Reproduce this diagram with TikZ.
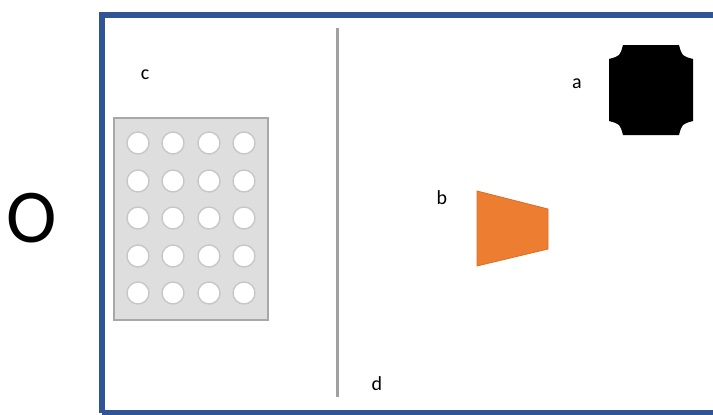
\documentclass[tikz,border=0pt]{standalone}
\usepackage{fontspec}
\setmainfont{Carlito}
\definecolor{frameblue}{HTML}{2F5597}
\definecolor{shapeorange}{HTML}{ED7D31}
\definecolor{platefill}{HTML}{DEDEDE}
\definecolor{plateedge}{HTML}{A8A8A8}
\definecolor{divgray}{HTML}{A0A0A0}
\tikzset{
  lbl/.style={inner sep=0pt, font=\fontsize{20}{24}\selectfont},
  well/.style={circle, fill=white, draw=black!22, line width=1.4pt, minimum size=22pt, inner sep=0pt},
}
\begin{document}
\begin{tikzpicture}[x=1pt,y=-1pt]
\useasboundingbox (0,0) rectangle (713,415);
\clip (0,0) rectangle (713,415);
\fill[white] (0,0) rectangle (713,415);
% frame
\draw[frameblue, line width=6pt] (101.5,413) -- (101.5,14.5) -- (730,14.5);
\draw[frameblue, line width=6pt] (101.5,413) -- (730,413);
% divider
\draw[divgray, line width=3pt] (337,28) -- (337,397);
% plate
\draw[fill=platefill, draw=plateedge, line width=1.5pt] (114,118) rectangle (268,320);
\foreach \r [count=\i] in {143,181,218,256,293}{
  \foreach \c [count=\j] in {138,173,209,244}{
    \node[well] (w\i\j) at (\c,\r) {};
  }
}
% octagon a
\fill[black] (623,45) -- (679,45) .. controls (682,56) .. (693,59)
  -- (693,121) .. controls (682,124) .. (679,135)
  -- (623,135) .. controls (620,124) .. (609,121)
  -- (609,59) .. controls (620,56) .. (623,45) -- cycle;
% trapezoid b
\fill[shapeorange, draw=shapeorange!90!black, line width=0.8pt] (477,191) -- (548,209) -- (548,249) -- (477,266) -- cycle;
% labels
\node[lbl] (la) at (577,84) {a};
\node[lbl] (lb) at (442,198) {b};
\node[lbl] (lc) at (145,75) {c};
\node[lbl] (ld) at (377,384) {d};
\node[inner sep=0pt, font=\fontsize{76}{80}\selectfont] (lo) at (32,218) {O};
\end{tikzpicture}
\end{document}
